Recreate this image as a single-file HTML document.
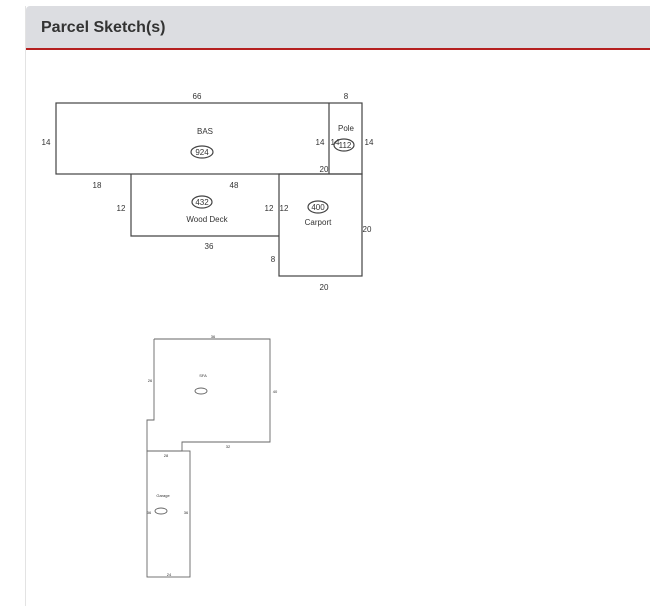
<!DOCTYPE html>
<html><head><style>
body{margin:0;background:#fff;width:650px;height:597px;overflow:hidden;font-family:"Liberation Sans",sans-serif;}
.panel{position:absolute;left:25px;top:6px;width:640px;height:600px;border-left:1px solid #e3e3e3;}
.hdr{height:42px;background:#dcdde1;border-bottom:2px solid #b52020;border-radius:4px 0 0 0;}
.hdr span{position:absolute;left:15px;top:13px;font-weight:bold;font-size:16px;color:#333;}
svg{position:absolute;left:0;top:0}
text{font-family:"Liberation Sans",sans-serif;fill:#333}
</style></head><body>
<div class="panel"><div class="hdr"><span>Parcel Sketch(s)</span></div></div>
<svg width="650" height="597">
<g fill="none" stroke="#444" stroke-width="1.2">
<rect x="56" y="103" width="306" height="71"/>
<line x1="329" y1="103" x2="329" y2="174"/>
<polyline points="131,174 131,236 279,236"/>
<rect x="279" y="174" width="83" height="102"/>
<ellipse cx="202" cy="152" rx="11" ry="6"/>
<ellipse cx="344" cy="145" rx="10" ry="6"/>
<ellipse cx="202" cy="202" rx="10" ry="6"/>
<ellipse cx="318" cy="207" rx="10" ry="6"/>
</g>
<g font-size="8" text-anchor="middle">
<text x="197" y="99">66</text><text x="346" y="99">8</text>
<text x="205" y="134">BAS</text><text x="202" y="155">924</text>
<text x="346" y="131">Pole</text><text x="345" y="148">112</text>
<text x="46" y="145">14</text><text x="320" y="145">14</text><text x="335" y="145">14</text><text x="369" y="145">14</text>
<text x="324" y="172">20</text>
<text x="97" y="188">18</text><text x="234" y="188">48</text>
<text x="121" y="211">12</text><text x="269" y="211">12</text><text x="284" y="211">12</text>
<text x="202" y="205">432</text><text x="207" y="222">Wood Deck</text>
<text x="318" y="210">400</text><text x="318" y="225">Carport</text>
<text x="367" y="232">20</text><text x="209" y="249">36</text><text x="273" y="262">8</text>
<text x="324" y="290">20</text>
</g>
<g fill="none" stroke="#666" stroke-width="0.9">
<polyline points="154,339 270,339 270,442 182,442 182,451 147,451 147,420 154,420 154,339"/>
<rect x="147" y="451" width="43" height="126"/>
<ellipse cx="201" cy="391" rx="6" ry="3"/>
<ellipse cx="161" cy="511" rx="6" ry="3"/>
</g>
<g font-size="4" text-anchor="middle" fill="#666">
<text x="213" y="338">36</text><text x="203" y="377">SFA</text><text x="150" y="382">26</text>
<text x="275" y="393">40</text><text x="228" y="448">32</text><text x="166" y="457">28</text>
<text x="163" y="497">Garage</text><text x="149" y="514">36</text><text x="186" y="514">36</text>
<text x="169" y="576">24</text>
</g>
</svg>
</body></html>
